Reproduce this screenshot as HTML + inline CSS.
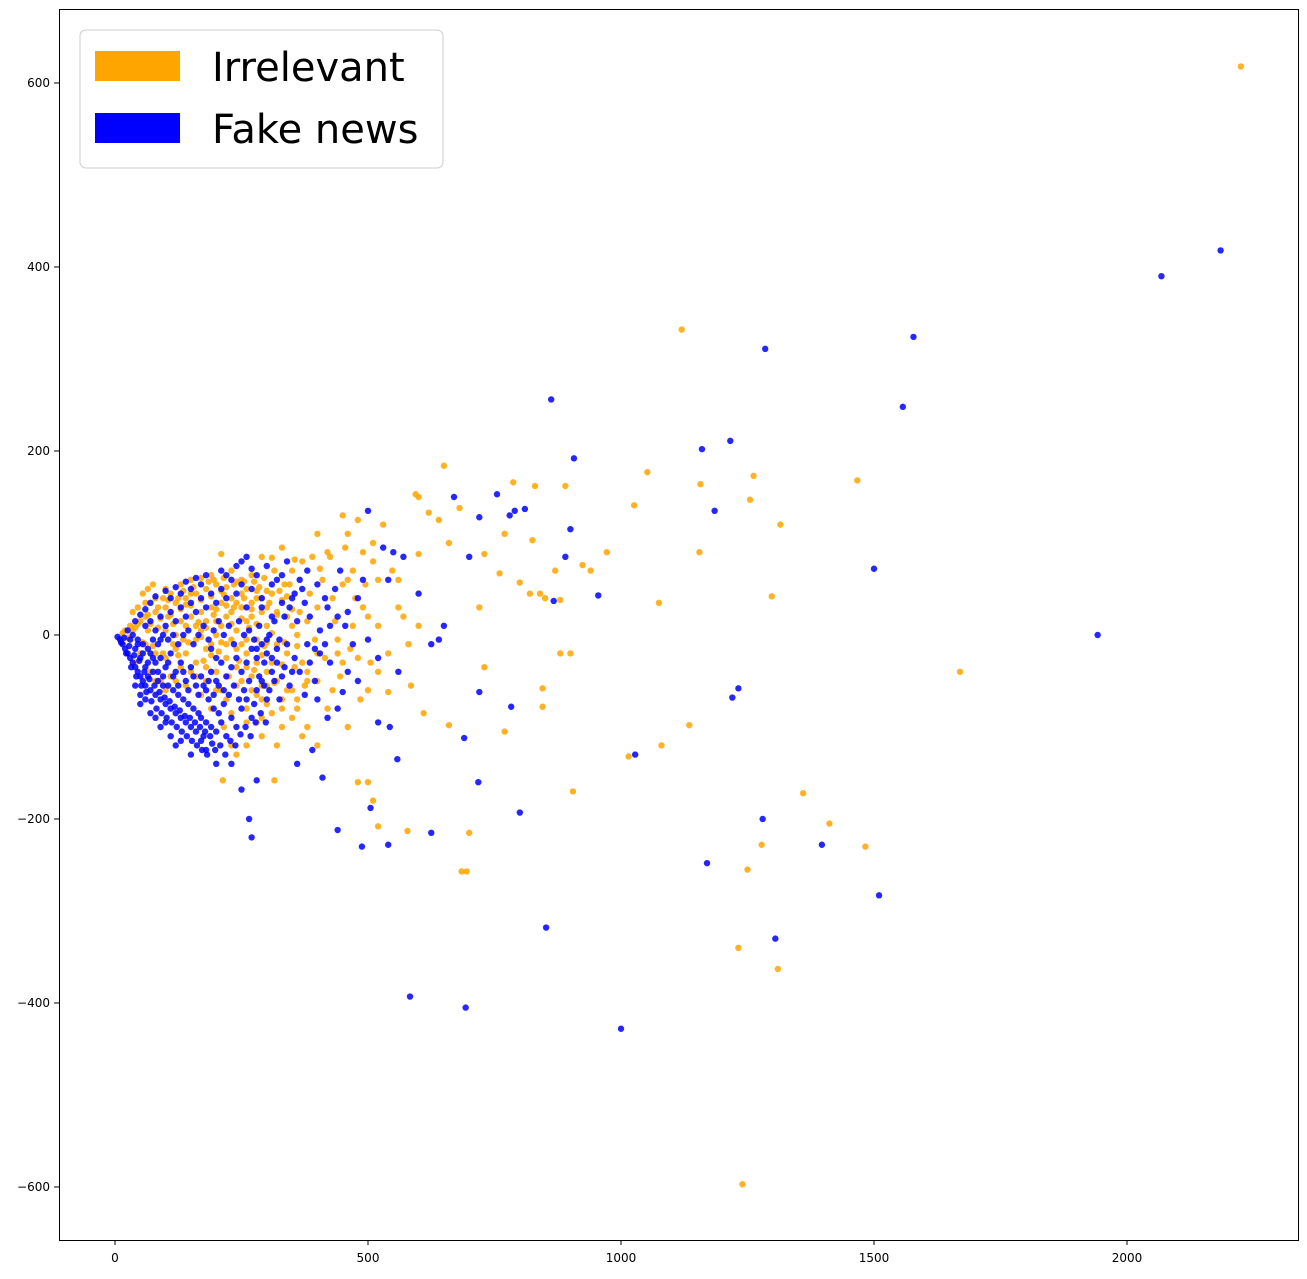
<!DOCTYPE html>
<html><head><meta charset="utf-8"><style>
body{margin:0;background:#fff;font-family:"DejaVu Sans","Liberation Sans",sans-serif}
svg text{font-family:"DejaVu Sans","Liberation Sans",sans-serif}
</style></head><body>
<svg id="chart" width="1307" height="1275" xmlns="http://www.w3.org/2000/svg">
<rect x="0" y="0" width="1307" height="1275" fill="#fff"/>
<g id="marks"></g>
<rect x="59.5" y="9.5" width="1239" height="1231" fill="none" stroke="#000" stroke-width="1"/>
<g id="axes"></g>
<g>
<rect x="80" y="30" width="363" height="138" rx="6" fill="#fff" fill-opacity="0.8" stroke="#ccc"/>
<rect x="95" y="51" width="85" height="30" fill="#ffa500"/>
<text x="212" y="81" font-size="40">Irrelevant</text>
<rect x="95" y="113" width="85" height="30" fill="#0000ff"/>
<text x="212" y="143" font-size="40">Fake news</text>
</g>
</svg>
<script>
const xTicks=[0,500,1000,1500,2000];
const yTicks=[-600,-400,-200,0,200,400,600];
const orangeX=[2225,1120,650,1052,1467,1262,1157,1255,1315,1026,787,830,890,594,620,681,1155,972,924,940,1298,1075,880,1670,1135,1080,1015,845,845,900,880,730,770,660,1360,1412,1483,1278,1250,1232,1310,1240,905,700,695,685,578,480,500,510,520,540,585,610,720,760,730,800,820,825,840,770,870,850,548,560,600,640,660,600,570,530,480,450,400,420,460,510,520,490,470,450,430,400,380,360,330,315,213,260,290,240,
20,30,40,50,60,70,80,90,100,110,120,130,140,150,160,170,180,190,200,210,220,230,240,250,260,270,280,290,300,310,320,330,340,350,100,120,140,160,180,200,220,240,260,280,300,320,340,360,380,400,140,160,180,200,220,240,260,280,300,320,340,360,380,200,220,240,260,280,300,180,150,170,190,210,230,250,270,290,110,130,150,170,190,210,230,250,270,290,310,330,350,370,390,410,430,450,470,490,510,60,80,100,120,60,80,100,215,230,260,290,320,350,380,420,460,500,540,560,580,600,520,440,400,370,330,310,290,270,250,230,210,190,170,150,130,110,90,70,50,40,35,45,55,65,75,
15,25,35,45,55,65,75,85,95,105,115,125,135,145,155,165,175,185,195,205,215,225,235,245,255,265,275,285,295,305,315,325,335,345,355,365,375,385,395,405,415,425,435,445,455,465,475,485,495,505,170,180,190,200,210,220,230,240,250,260,270,280,290,300,310,320,330,340,350,360,250,270,290,310,280,230,210,190,170,160,140,120,100,80,130,140,160,180,200,220,240,260,280,300,195,215,235,255,275,295,315,335,355,150,125,105,85,65,95,115,135,300,330,350,370,400,440,480,520,460,500];
const orangeY=[618,332,184,177,168,173,164,147,120,141,166,162,162,153,133,138,90,90,76,70,42,35,38,-40,-98,-120,-132,-58,-78,-20,-20,-35,-105,-98,-172,-205,-230,-228,-255,-340,-363,-597,-170,-215,-257,-257,-213,-160,-160,-180,-208,-62,-55,-85,30,67,88,57,45,103,45,110,70,40,70,60,150,125,100,88,20,120,125,130,110,90,110,100,60,30,10,-30,-60,-20,-50,-80,-100,-158,-158,-120,-110,-130,
5,10,8,15,20,12,25,18,30,22,35,28,40,32,45,38,50,42,55,48,52,40,58,45,50,35,48,40,30,45,25,38,20,10,5,0,10,-5,15,0,20,5,15,-5,10,-10,-20,0,15,30,-20,-30,-15,-40,-25,-35,-20,-30,-40,-50,-60,-70,-40,-60,-70,-55,-80,-65,-75,-50,20,25,30,35,25,30,20,25,45,55,60,62,65,88,70,60,65,85,84,95,70,80,85,60,40,55,70,90,80,-10,-20,-25,-15,35,40,50,-100,-120,-95,-90,-120,-60,-100,-80,-100,-60,-20,30,-10,10,10,-20,-50,-30,-80,-30,-55,-45,-10,-5,10,-10,5,-40,-35,-45,-50,-40,-20,-30,25,30,45,50,55,
2,-3,5,12,-8,22,-12,30,-20,38,12,-22,48,-8,52,14,-28,58,22,-18,44,-45,30,-28,58,8,-38,52,-12,35,-52,48,-8,55,-35,25,-55,45,-5,72,-25,85,15,-45,95,-15,40,-70,55,-30,-2,8,-22,28,-8,32,12,-15,18,-35,28,12,-22,48,2,22,-32,42,28,-12,-50,-60,-70,-85,-95,-85,-60,-80,-65,-45,-55,-50,-60,-50,15,33,10,-35,15,-10,35,-5,40,-8,60,62,55,40,58,62,70,55,82,45,40,20,8,5,40,-10,-5,-55,-70,-90,-110,-120,-5,-25,-40,60,20];
const blueX=[2185,2068,1578,1285,1557,862,1216,1160,907,1185,1500,1942,1232,1220,1028,1280,1397,1510,1170,1305,852,1000,693,583,800,718,783,720,690,670,755,790,810,780,720,900,955,867,890,625,540,488,505,440,558,543,520,270,265,250,280,450,410,390,360,600,570,550,530,500,625,640,650,700,490,480,470,440,460,420,400,380,350,340,330,310,370,
5,10,15,20,25,30,35,40,45,50,55,60,65,70,75,80,85,90,95,100,105,110,115,120,125,130,135,140,145,150,155,160,165,170,175,180,185,190,195,200,205,210,215,220,230,240,250,260,270,280,290,300,310,320,330,340,30,40,50,60,70,80,90,100,110,120,130,140,150,160,170,180,190,200,210,220,230,240,250,260,270,280,290,300,60,70,80,90,100,110,120,130,140,150,160,170,180,190,200,210,220,230,240,250,260,270,280,290,300,310,320,25,35,45,55,65,75,85,95,105,115,125,135,145,155,165,175,185,195,205,215,225,235,245,255,265,275,285,295,305,315,325,335,345,355,365,375,385,395,405,415,425,435,445,455,120,150,180,200,230,170,60,80,100,40,50,
12,18,22,28,32,38,42,48,52,58,62,68,72,78,82,88,92,98,102,108,112,118,122,128,132,138,142,148,152,158,162,168,172,178,182,188,192,198,208,218,228,238,248,258,268,278,288,298,45,55,65,75,85,95,105,115,125,135,145,155,165,175,185,195,205,215,225,235,245,255,265,275,285,295,305,315,325,335,345,355,365,375,385,395,405,415,425,110,130,90,70,50,40,50,60,70,80,90,100,110,120,130,140,150,160,170,180,190,200,210,220,240,250,260,270,280,290,300,310,320,330,350,360,380,400,420,440,460,480,500,520,540,560];
const blueY=[418,390,324,311,248,256,211,202,192,135,72,0,-58,-68,-130,-200,-228,-283,-248,-330,-318,-428,-405,-393,-193,-160,-78,-62,-112,150,153,135,137,130,128,115,43,37,85,-215,-228,-230,-188,-212,-135,-100,-95,-220,-200,-168,-158,-62,-155,-125,-140,45,85,90,95,135,-10,-5,10,85,60,40,-10,20,-40,-90,-70,-10,40,80,65,20,50,
-2,-5,-10,-15,-20,-25,-30,-35,-40,-45,-50,-55,-30,-60,-40,-65,-50,-70,-45,-75,-55,-80,-60,-85,-65,-90,-70,-95,-75,-100,-80,-105,-85,-90,-110,-95,-70,-100,-80,-105,-85,-95,-75,-110,-90,-100,-80,-70,-90,-60,-50,-70,-40,-30,-45,-10,-5,-15,-25,-35,-20,-30,-25,-35,-20,-40,-30,-50,-35,-55,-45,-60,-40,-50,-30,-45,-35,-25,-40,-30,-15,-25,-10,-20,10,15,5,20,10,25,15,30,20,35,25,40,30,45,35,50,40,60,45,55,30,50,65,40,75,55,60,5,0,-5,-10,-15,-5,-10,0,-5,0,-10,0,5,-10,0,10,-5,5,15,0,10,-10,15,0,5,-5,10,-30,0,15,-5,20,30,45,60,35,20,-15,5,40,-30,50,70,10,-120,-130,-125,-140,-140,-115,-70,-90,-95,-55,-65,
-8,-3,-20,-12,-35,-22,-45,-28,-55,-40,-62,-48,-72,-55,-80,-62,-85,-68,-90,-72,-95,-78,-100,-82,-105,-88,-110,-90,-115,-95,-120,-100,-125,-105,-130,-110,-118,-125,-120,-130,-115,-120,-108,-100,-110,-95,-85,-95,-10,-20,-45,-25,-40,-55,-30,-45,-55,-40,-60,-45,-65,-55,-50,-65,-55,-60,-65,-55,-70,-60,-50,-75,-45,-55,-60,-50,-70,-35,-55,-25,-40,-65,-30,-50,-20,-10,10,-110,-115,-100,-85,-75,15,22,28,35,42,-5,48,40,52,45,58,50,62,55,65,-15,-25,70,65,75,80,85,72,-15,30,-5,-25,-15,35,-40,15,70,55,30,-80,25,-50,-5,-25,60,-40];
const NS='http://www.w3.org/2000/svg';
const sx=v=>115+v*0.506, sy=v=>635-v*0.92;
const marks=document.getElementById('marks'), axes=document.getElementById('axes');
function dots(xs,ys,color,name){
  for(let i=0;i<xs.length;i++){
    const c=document.createElementNS(NS,'circle');
    c.setAttribute('cx',sx(xs[i]));c.setAttribute('cy',sy(ys[i]));c.setAttribute('r',3.2);
    c.setAttribute('fill',color);c.setAttribute('fill-opacity',0.85);
    
    
    marks.appendChild(c);
  }
}
dots(orangeX,orangeY,'#ffa500','irrelevant-point');
dots(blueX,blueY,'#0000ff','fake-news-point');
xTicks.forEach(t=>{
  const l=document.createElementNS(NS,'line');
  l.setAttribute('x1',sx(t));l.setAttribute('x2',sx(t));l.setAttribute('y1',1240);l.setAttribute('y2',1245);l.setAttribute('stroke','#000');
  
  
  axes.appendChild(l);
  const tx=document.createElementNS(NS,'text');
  tx.setAttribute('x',sx(t));tx.setAttribute('y',1262);tx.setAttribute('text-anchor','middle');tx.setAttribute('font-size',12);
  tx.textContent=t;
  
  
  axes.appendChild(tx);
});
yTicks.forEach(t=>{
  const l=document.createElementNS(NS,'line');
  l.setAttribute('x1',54);l.setAttribute('x2',59);l.setAttribute('y1',sy(t));l.setAttribute('y2',sy(t));l.setAttribute('stroke','#000');
  
  
  axes.appendChild(l);
  const tx=document.createElementNS(NS,'text');
  tx.setAttribute('x',50);tx.setAttribute('y',sy(t)+4);tx.setAttribute('text-anchor','end');tx.setAttribute('font-size',12);
  tx.textContent=t<0?'\u2212'+(-t):t;
  
  
  axes.appendChild(tx);
});
</script>
</body></html>
